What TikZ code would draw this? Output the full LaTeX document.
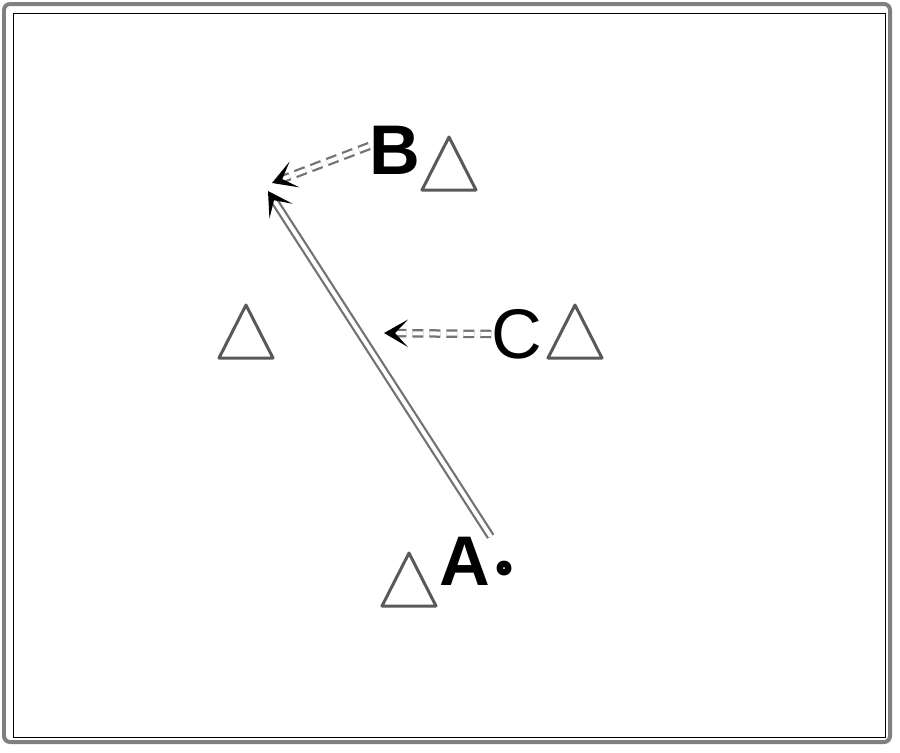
\documentclass[tikz,border=0pt]{standalone}
\usepackage{fontspec}
\setsansfont{Liberation Sans}
\usetikzlibrary{arrows.meta,positioning}
\begin{document}
\begin{tikzpicture}[x=0.02cm,y=-0.02cm]
\tikzset{cone/.style={draw=black!65,line width=0.06cm,line join=round}}
\tikzset{letter/.style={font=\sffamily\fontsize{40}{40}\selectfont,inner sep=0pt}}
\tikzset{heavy/.style={font=\sffamily\bfseries\fontsize{40}{40}\selectfont}}
\tikzset{run/.style={draw=black!55,line width=0.045cm,double distance=0.08cm,-{Stealth[length=0.48cm,width=0.55cm,inset=0.26cm,black]}}}
\tikzset{pass/.style={run,dash pattern=on 0.22cm off 0.12cm}}

\useasboundingbox (0,0) rectangle (900,752);
% Draw the frame
\draw[black!50,line width=0.08cm,rounded corners=0.12cm] (4,4) rectangle (890,742);
\draw[thin] (13,13) rectangle (885,737);

% the cones
\foreach \x/\y in {449/164, 575/332, 246/332, 409/580} {
\draw[cone] (\x,\y-27) -- (\x+27,\y+26) -- (\x-27,\y+26) -- cycle;
}

% the players
\node[letter,heavy] (B) at (395,150) {B};
\node[letter] (C) at (517,334) {C};
\node[letter,heavy] (A) at (465,561) {A};

% the ball
\node[circle,fill=black,inner sep=0pt,minimum size=0.3cm] (ball) at (504,568) {};
\fill[white] (ball.center) circle (0.02cm);

% the runs and passes
\coordinate (runend) at (268,191);
\coordinate (passend) at (272,183);
\coordinate (Cend) at (384,333);
\draw[run] (A.north east) -- (runend);
\draw[pass] ([yshift=0.08cm]B.west) -- (passend);
\draw[pass] (C.west) -- (Cend);
\end{tikzpicture}
\end{document}
